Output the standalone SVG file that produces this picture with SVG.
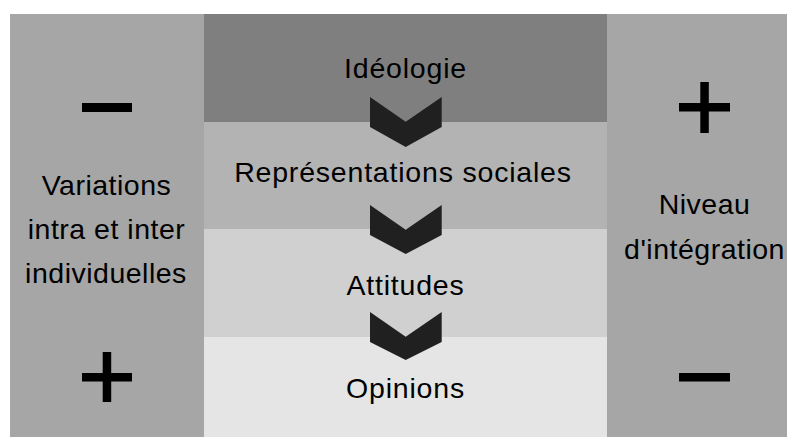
<svg xmlns="http://www.w3.org/2000/svg" width="787" height="437" viewBox="0 0 787 437">
<style>
text{font-family:"Liberation Sans",Arial,sans-serif;font-size:28.5px;fill:#000;text-anchor:middle;letter-spacing:0.5px}
.mid{letter-spacing:0.8px}
.sign{fill:#000}
.chev{fill:#202020}
</style>
<rect width="787" height="437" fill="#fff"/>
<g id="left-panel">
<rect x="10" y="14" width="194" height="423" fill="#a6a6a6"/>
<rect class="sign" x="82" y="103" width="50" height="9"/>
<text x="106.5" y="195">Variations</text>
<text x="106.5" y="239">intra et inter</text>
<text x="106" y="283">individuelles</text>
<rect class="sign" x="82" y="373" width="50" height="8.5"/>
<rect class="sign" x="102.7" y="352" width="8.5" height="50"/>
</g>
<g id="right-panel">
<rect x="607" y="14" width="180" height="423" fill="#a6a6a6"/>
<rect class="sign" x="679" y="103" width="51" height="8.5"/>
<rect class="sign" x="700.3" y="82" width="8.5" height="51"/>
<text x="704.5" y="214">Niveau</text>
<text x="704.5" y="259">d'intégration</text>
<rect class="sign" x="679" y="373" width="51" height="8.5"/>
</g>
<g id="ideologie">
<rect x="204" y="14" width="403" height="108" fill="#7f7f7f"/>
<text class="mid" x="405.5" y="78">Idéologie</text>
</g>
<g id="representations">
<rect x="204" y="122" width="403" height="107" fill="#b3b3b3"/>
<text class="mid" x="403" y="182">Représentations sociales</text>
</g>
<g id="attitudes">
<rect x="204" y="229" width="403" height="108" fill="#d0d0d0"/>
<text class="mid" x="405.5" y="295">Attitudes</text>
</g>
<g id="opinions">
<rect x="204" y="337" width="403" height="100" fill="#e5e5e5"/>
<text class="mid" x="405.5" y="398">Opinions</text>
</g>
<g id="connectors">
<polygon class="chev" points="370,97 405.7,121.7 441.7,97 441.7,127 405.7,147 370,127"/>
<polygon class="chev" points="370,205 405.7,229.7 441.7,205 441.7,235 405.7,254 370,235"/>
<polygon class="chev" points="370,312 405.7,336.7 441.7,312 441.7,342 405.7,360 370,342"/>
</g>
</svg>
